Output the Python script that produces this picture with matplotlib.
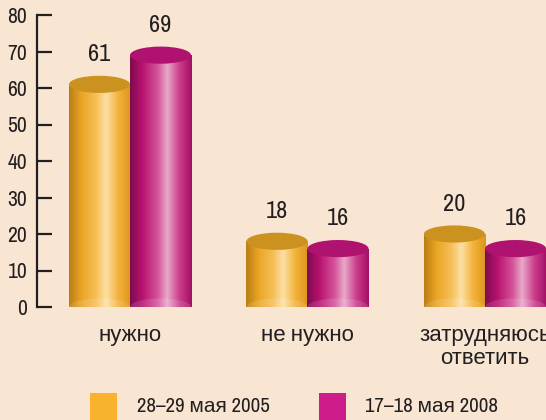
import matplotlib
matplotlib.use("Agg")
import matplotlib.pyplot as plt
import matplotlib.patches as patches
from matplotlib import font_manager
from matplotlib.colors import LinearSegmentedColormap
import numpy as np

# prefer a condensed face if one is installed
names = sorted({f.name for f in font_manager.fontManager.ttflist})
narrow = [n for n in names if 'Narrow' in n or 'Condensed' in n]
families = narrow[:1] + ['Liberation Sans', 'DejaVu Sans']
plt.rcParams['font.family'] = families

categories = ["нужно", "не нужно", "затрудняюсь\nответить"]
series_names = ["28–29 мая 2005", "17–18 мая 2008"]
values_2005 = [61, 18, 20]
values_2008 = [69, 16, 16]
yticks = [0, 10, 20, 30, 40, 50, 60, 70, 80]

bg = '#f8e6d3'
ink = '#231f20'

# body gradients: dark edge -> colour -> highlight -> colour -> dark edge
gold_cmap = LinearSegmentedColormap.from_list(
    'gold', [(0, '#b97d16'), (0.2, '#eaa524'), (0.45, '#f7c05a'),
             (0.6, '#fde0a6'), (0.8, '#f3b23a'), (1, '#dd951c')])
mag_cmap = LinearSegmentedColormap.from_list(
    'mag', [(0, '#7e0b4e'), (0.2, '#b8126f'), (0.45, '#d4559a'),
            (0.6, '#e8a9c9'), (0.8, '#cc3d8c'), (1, '#a20f64')])
gold_top = '#cb9220'
mag_top = '#b01270'

fig = plt.figure(figsize=(5.46, 4.2), dpi=100)
fig.patch.set_facecolor(bg)
ax = fig.add_axes([37 / 546, 113 / 420, 509 / 546, 292 / 420])
ax.set_facecolor(bg)

w = 0.344
ell_h = 4.7
x = np.arange(len(categories))
grad = np.linspace(0, 1, 256).reshape(1, -1)


def cylinder(xc, val, cmap, top):
    x0, x1 = xc - w / 2, xc + w / 2
    body = patches.Rectangle((x0, 0), w, val, transform=ax.transData)
    im = ax.imshow(grad, cmap=cmap, extent=[x0, x1, 0, val], aspect='auto',
                   zorder=2)
    im.set_clip_path(body)
    bottom = patches.Ellipse((xc, 0), w, ell_h, transform=ax.transData)
    im2 = ax.imshow(grad, cmap=cmap, extent=[x0, x1, -ell_h / 2, ell_h / 2],
                    aspect='auto', zorder=2)
    im2.set_clip_path(bottom)
    # lighter band at the base
    ax.add_patch(patches.Ellipse((xc, 0), w, ell_h, facecolor='white',
                                 alpha=0.12, edgecolor='none', zorder=3))
    ax.add_patch(patches.Ellipse((xc, val), w, ell_h, facecolor=top,
                                 edgecolor='none', zorder=4))


for i in range(len(categories)):
    cylinder(x[i] - w / 2, values_2005[i], gold_cmap, gold_top)
    cylinder(x[i] + w / 2, values_2008[i], mag_cmap, mag_top)
    ax.text(x[i] - w / 2, values_2005[i] + 8.2, str(values_2005[i]),
            ha='center', va='center', fontsize=17.5, color=ink)
    ax.text(x[i] + w / 2, values_2008[i] + 8.2, str(values_2008[i]),
            ha='center', va='center', fontsize=17.5, color=ink)
    ax.text(x[i], -5.2, categories[i], ha='center', va='top', fontsize=16,
            color=ink, linespacing=1.1, clip_on=False)

ax.set_xlim(-0.524, 2.344)
ax.set_ylim(0, 80)
ax.set_yticks(yticks)
ax.set_xticks([])
for s in ['top', 'right', 'bottom']:
    ax.spines[s].set_visible(False)
ax.spines['left'].set_color(ink)
ax.spines['left'].set_linewidth(1.6)
ax.tick_params(axis='y', direction='in', length=11, width=1.6, color=ink,
               labelsize=15.5, labelcolor=ink, pad=7)

# legend
legend_colors = ['#f8b22b', '#ce1c8a']
legend_sq_x = [90, 319]
legend_txt_x = [137, 365]
for c, sx, tx, name in zip(legend_colors, legend_sq_x, legend_txt_x, series_names):
    fig.patches.append(patches.Rectangle((sx / 546, 0), 27 / 546, 27 / 420,
                                         transform=fig.transFigure,
                                         facecolor=c, edgecolor='none'))
    fig.text(tx / 546, 14 / 420, name, ha='left', va='center', fontsize=15,
             color=ink)

plt.savefig("out.png", dpi=100, facecolor=bg)
